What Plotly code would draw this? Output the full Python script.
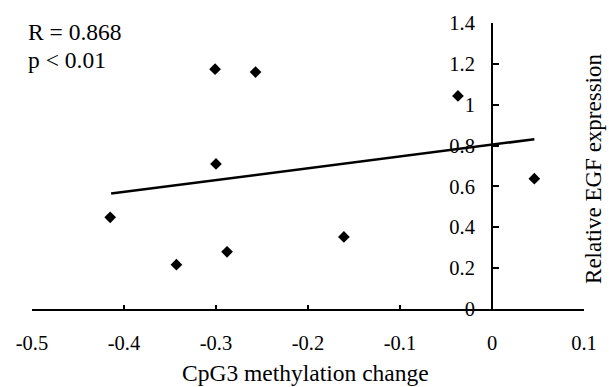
import plotly.graph_objects as go

# Data
methylation_change = [-0.415, -0.343, -0.288, -0.300, -0.301, -0.257, -0.161, -0.037, 0.046]
egf_expression = [0.449, 0.217, 0.280, 0.710, 1.174, 1.160, 0.353, 1.043, 0.638]
trend_x = [-0.414, 0.046]
trend_y = [0.565, 0.831]
x_ticks = [-0.5, -0.4, -0.3, -0.2, -0.1, 0, 0.1]
x_tick_labels = ["-0.5", "-0.4", "-0.3", "-0.2", "-0.1", "0", "0.1"]
y_ticks = [0, 0.2, 0.4, 0.6, 0.8, 1.0, 1.2, 1.4]
y_tick_labels = ["0", "0.2", "0.4", "0.6", "0.8", "1", "1.2", "1.4"]

FONT = "Liberation Serif, Times New Roman, serif"

fig = go.Figure()
fig.add_trace(go.Scatter(
    x=trend_x, y=trend_y, mode="lines",
    line=dict(color="black", width=2.5), showlegend=False, hoverinfo="skip"))
fig.add_trace(go.Scatter(
    x=methylation_change, y=egf_expression, mode="markers",
    marker=dict(symbol="diamond", size=9, color="black"), showlegend=False))

fig.update_layout(
    width=609, height=387,
    margin=dict(l=32, r=25, t=19, b=78),
    paper_bgcolor="white", plot_bgcolor="white",
    font=dict(family=FONT, size=20, color="black"),
    xaxis=dict(
        range=[-0.5, 0.1], tickvals=x_ticks, ticktext=x_tick_labels,
        showgrid=False, zeroline=False, showline=True, linecolor="black", linewidth=2,
        ticks="inside", ticklen=4, tickwidth=1.5, tickcolor="black",
        ticklabelstandoff=14, anchor="y",
        tickfont=dict(family=FONT, size=20.5, color="black"),
    ),
    yaxis=dict(
        range=[0, 1.4], tickvals=y_ticks, ticktext=y_tick_labels,
        showgrid=False, zeroline=False, showline=True, linecolor="black", linewidth=2,
        ticks="inside", ticklen=6, tickwidth=1.5, tickcolor="black",
        anchor="free", position=0.5 / 0.6, side="left",
        ticklabelstandoff=12,
        tickfont=dict(family=FONT, size=20.5, color="black"),
    ),
    annotations=[
        dict(text="CpG3 methylation change", xref="paper", yref="paper",
             x=(305 - 32) / 552, y=-(374 - 309) / 290, xanchor="center", yanchor="middle",
             showarrow=False, font=dict(family=FONT, size=23.5, color="black")),
        dict(text="Relative EGF expression", xref="paper", yref="paper",
             x=(594 - 32) / 552, y=(309 - 167) / 290, xanchor="center", yanchor="middle",
             textangle=-90, showarrow=False, font=dict(family=FONT, size=23, color="black")),
        dict(text="R = 0.868", xref="paper", yref="paper",
             x=(26 - 32) / 552, y=(309 - 28) / 290, xanchor="left", yanchor="middle",
             showarrow=False, font=dict(family=FONT, size=23.5, color="black")),
        dict(text="p < 0.01", xref="paper", yref="paper",
             x=(26 - 32) / 552, y=(309 - 57) / 290, xanchor="left", yanchor="middle",
             showarrow=False, font=dict(family=FONT, size=23.5, color="black")),
    ],
)

fig.write_html(
    "out.html",
    config={"displayModeBar": False},
    post_script="document.body.style.margin='0';document.body.style.padding='0';"
                "document.documentElement.style.overflow='hidden';",
)
